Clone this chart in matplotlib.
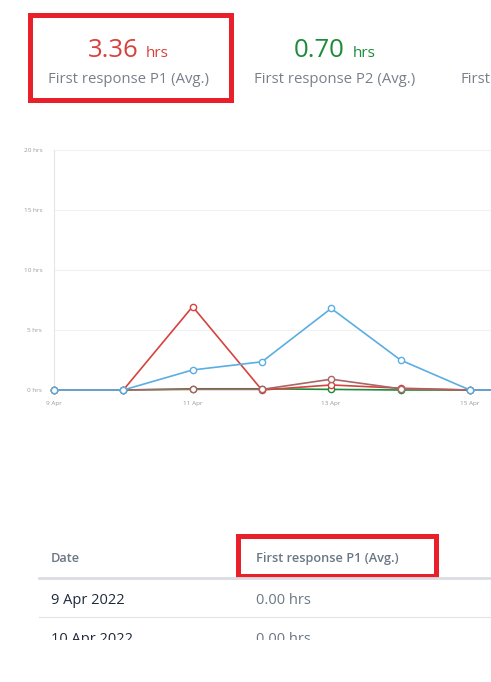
import numpy as np
import matplotlib.pyplot as plt
from matplotlib.patches import Rectangle

W, H = 491, 682

# chart data (hours per day)
days = ["9 Apr", "10 Apr", "11 Apr", "12 Apr", "13 Apr", "14 Apr", "15 Apr", "16 Apr"]
p1 = [0, 0, 6.95, 0, 0.42, 0.15, 0, 0]
p2 = [0, 0, 0.1, 0.1, 0.05, 0, 0, 0]
p3 = [0, 0, 0.05, 0.05, 0.9, 0.1, 0, 0]
p4 = [0, 0, 1.67, 2.35, 6.8, 2.5, 0, 0]
y_ticks = [0, 5, 10, 15, 20]
x_tick_idx = [0, 2, 4, 6]

# summary cards
card_values = ["3.36", "0.70"]
card_labels = ["First response P1 (Avg.)", "First response P2 (Avg.)", "First"]

# table
table_header = ["Date", "First response P1 (Avg.)"]
table_dates = ["9 Apr 2022", "10 Apr 2022"]
table_vals = ["0.00 hrs", "0.00 hrs"]

RED = "#d6423d"
GREEN = "#1f8a3b"
BLUE = "#5aaee3"
BROWN = "#a86665"
GREY = "#77808a"
BOX = "#e8202a"

plt.rcParams['font.family'] = ['Open Sans', 'DejaVu Sans']


def fx(x):
    return x / W


def fy(y):
    return 1 - y / H


fig = plt.figure(figsize=(W / 100, H / 100), dpi=100)

# --- top summary cards
fig.text(fx(139), fy(57), card_values[0], color=RED, fontsize=18.5, ha='right', va='baseline')
fig.text(fx(146), fy(57), "hrs", color=RED, fontsize=11, ha='left', va='baseline')
fig.text(fx(129), fy(83), card_labels[0], color=GREY, fontsize=10.7, ha='center', va='baseline')

fig.text(fx(345), fy(57), card_values[1], color=GREEN, fontsize=18.5, ha='right', va='baseline')
fig.text(fx(353), fy(57), "hrs", color=GREEN, fontsize=11, ha='left', va='baseline')
fig.text(fx(335), fy(83), card_labels[1], color=GREY, fontsize=10.7, ha='center', va='baseline')
fig.text(fx(461), fy(83), card_labels[2], color=GREY, fontsize=10.7, ha='left', va='baseline')

fig.patches.append(Rectangle((fx(29.5), fy(99.5)), fx(201), 99.5 / H - 14.5 / H,
                             transform=fig.transFigure, fill=False, edgecolor=BOX, lw=3.6))

# --- chart
ax = fig.add_axes([fx(54), fy(390), fx(W - 54), 240 / H])
x = np.arange(len(days))
series = [(p2, GREEN), (p1, RED), (p3, BROWN), (p4, BLUE)]
for vals, col in series:
    ax.plot(x, vals, color=col, lw=1.2, marker='o', ms=4.5, mfc='white', mec=col,
            mew=1.0, clip_on=False, zorder=3)

ax.set_xlim(0, (W - 54) / 69.3)
ax.set_ylim(0, 20)
ax.set_yticks(y_ticks)
ax.set_yticklabels([f"{v} hrs" for v in y_ticks])
ax.set_xticks(x_tick_idx)
ax.set_xticklabels([days[i] for i in x_tick_idx])
ax.tick_params(axis='both', length=0, labelsize=4.6, labelcolor='#9a9a9a')
ax.tick_params(axis='y', pad=8.5)
ax.tick_params(axis='x', pad=8)
ax.grid(axis='y', color='#f1f1f1', lw=0.8)
ax.set_axisbelow(True)
for side in ['top', 'right', 'bottom']:
    ax.spines[side].set_visible(False)
ax.spines['left'].set_color('#e6e6e6')
ax.spines['left'].set_linewidth(0.8)

# --- table
fig.text(fx(51), fy(562), table_header[0], color='#6b7785', fontsize=9.2,
         fontweight='semibold', ha='left', va='baseline')
fig.text(fx(256), fy(562), table_header[1], color='#6b7785', fontsize=9.2,
         fontweight='semibold', ha='left', va='baseline')
fig.lines.append(plt.Line2D([fx(39), 1], [fy(577.5), fy(577.5)], transform=fig.transFigure,
                            color='#dcdde3', lw=2))
fig.patches.append(Rectangle((fx(237.5), fy(575.5)), fx(198), 40 / H,
                             transform=fig.transFigure, fill=False, edgecolor=BOX, lw=3.6))

row_base = [604, 643]
for d, v, yb in zip(table_dates, table_vals, row_base):
    fig.text(fx(51), fy(yb), d, color='#1f2a3a', fontsize=10.5, ha='left', va='baseline')
    fig.text(fx(256), fy(yb), v, color='#6b7785', fontsize=10.5, ha='left', va='baseline')
fig.lines.append(plt.Line2D([fx(39), 1], [fy(616.5), fy(616.5)], transform=fig.transFigure,
                            color='#e2e2e8', lw=0.8))

# last row is cut off by the page edge
fig.patches.append(Rectangle((0, 0), 1, 1 - 640 / H, transform=fig.transFigure,
                             facecolor='white', edgecolor='none', zorder=10))

fig.savefig('out.png', dpi=100)
